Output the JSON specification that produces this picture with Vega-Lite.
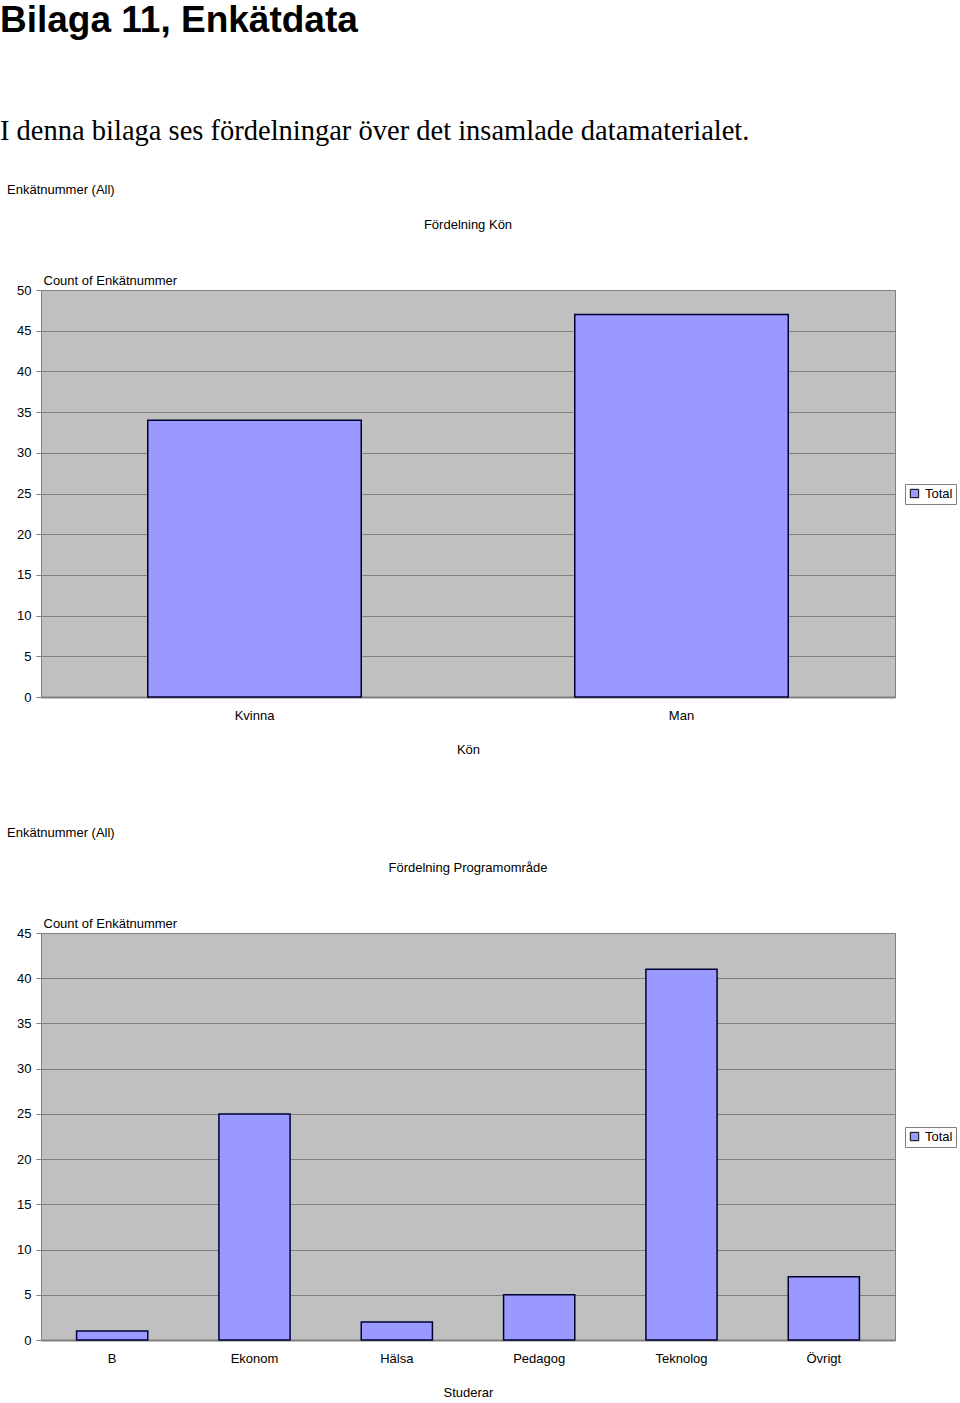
{
  "$schema": "https://vega.github.io/schema/vega-lite/v6.json",
  "padding": {"top": 2, "left": 0, "right": 0, "bottom": 0},
  "background": "white",
  "config": {
    "font": "Liberation Sans",
    "view": {"stroke": "#808080", "fill": "#C0C0C0", "strokeWidth": 1},
    "axis": {
      "labelFont": "Liberation Sans", "labelFontSize": 13, "labelColor": "#000000",
      "titleFont": "Liberation Sans", "titleFontSize": 13, "titleFontWeight": "normal", "titleColor": "#000000",
      "domainColor": "#808080", "tickColor": "#808080", "gridColor": "#808080", "gridOpacity": 1
    },
    "legend": {"layout": {"right": {"anchor": "middle"}}},
    "title": {"font": "Liberation Sans", "fontSize": 13, "fontWeight": "normal", "color": "#000000"}
  },
  "title": {
    "text": "Bilaga 11, Enkätdata",
    "subtitle": "I denna bilaga ses fördelningar över det insamlade datamaterialet.",
    "anchor": "start",
    "frame": "group",
    "dx": -41,
    "font": "Liberation Sans",
    "fontSize": 37,
    "fontWeight": "bold",
    "subtitleFont": "Liberation Serif",
    "subtitleFontSize": 28.5,
    "subtitleColor": "#000000",
    "subtitlePadding": 77,
    "offset": 37
  },
  "spacing": 69,
  "resolve": {"scale": {"color": "independent"}, "legend": {"color": "independent"}},
  "vconcat": [
    {
      "title": {"text": "Enkätnummer  (All)", "anchor": "start", "dx": -9, "offset": 22},
      "resolve": {"scale": {"color": "independent"}, "legend": {"color": "independent"}},
      "vconcat": [
        {
          "title": {"text": "Fördelning Kön", "anchor": "middle", "offset": 42},
          "width": 854,
          "height": 407,
          "data": {"values": [
            {"Kön": "Kvinna", "count": 34, "series": "Total"},
            {"Kön": "Man", "count": 47, "series": "Total"}
          ]},
          "mark": {"type": "bar", "stroke": "#000033", "strokeWidth": 1.5},
          "encoding": {
            "x": {"field": "Kön", "type": "nominal", "sort": null,
              "scale": {"paddingInner": 0.5, "paddingOuter": 0.25},
              "axis": {"labelAngle": 0, "ticks": false, "labelPadding": 12, "title": "Kön", "titlePadding": 21, "domainWidth": 2}},
            "y": {"field": "count", "type": "quantitative",
              "scale": {"domain": [0, 50], "nice": false},
              "axis": {"values": [0, 5, 10, 15, 20, 25, 30, 35, 40, 45, 50], "title": "Count of Enkätnummer",
                "titleAngle": 0, "titleAlign": "left", "titleBaseline": "bottom", "titleX": 2, "titleY": -3,
                "tickSize": 5, "labelPadding": 5, "grid": true}},
            "color": {"field": "series", "type": "nominal", "scale": {"range": ["#9999FF"]},
              "legend": {"title": null, "orient": "right", "offset": 10, "symbolType": "square", "symbolSize": 70,
                "symbolStrokeColor": "#000000", "symbolStrokeWidth": 1, "strokeColor": "#808080", "padding": 3,
                "labelFontSize": 13, "labelFont": "Liberation Sans", "labelColor": "#000000"}}
          }
        }
      ]
    },
    {
      "title": {"text": "Enkätnummer  (All)", "anchor": "start", "dx": -9, "offset": 22},
      "resolve": {"scale": {"color": "independent"}, "legend": {"color": "independent"}},
      "vconcat": [
        {
          "title": {"text": "Fördelning Programområde", "anchor": "middle", "offset": 42},
          "width": 854,
          "height": 407,
          "data": {"values": [
            {"Studerar": "B", "count": 1, "series": "Total"},
            {"Studerar": "Ekonom", "count": 25, "series": "Total"},
            {"Studerar": "Hälsa", "count": 2, "series": "Total"},
            {"Studerar": "Pedagog", "count": 5, "series": "Total"},
            {"Studerar": "Teknolog", "count": 41, "series": "Total"},
            {"Studerar": "Övrigt", "count": 7, "series": "Total"}
          ]},
          "mark": {"type": "bar", "stroke": "#000033", "strokeWidth": 1.5},
          "encoding": {
            "x": {"field": "Studerar", "type": "nominal", "sort": null,
              "scale": {"paddingInner": 0.5, "paddingOuter": 0.25},
              "axis": {"labelAngle": 0, "ticks": false, "labelPadding": 12, "title": "Studerar", "titlePadding": 21, "domainWidth": 2}},
            "y": {"field": "count", "type": "quantitative",
              "scale": {"domain": [0, 45], "nice": false},
              "axis": {"values": [0, 5, 10, 15, 20, 25, 30, 35, 40, 45], "title": "Count of Enkätnummer",
                "titleAngle": 0, "titleAlign": "left", "titleBaseline": "bottom", "titleX": 2, "titleY": -3,
                "tickSize": 5, "labelPadding": 5, "grid": true}},
            "color": {"field": "series", "type": "nominal", "scale": {"range": ["#9999FF"]},
              "legend": {"title": null, "orient": "right", "offset": 10, "symbolType": "square", "symbolSize": 70,
                "symbolStrokeColor": "#000000", "symbolStrokeWidth": 1, "strokeColor": "#808080", "padding": 3,
                "labelFontSize": 13, "labelFont": "Liberation Sans", "labelColor": "#000000"}}
          }
        }
      ]
    }
  ]
}
